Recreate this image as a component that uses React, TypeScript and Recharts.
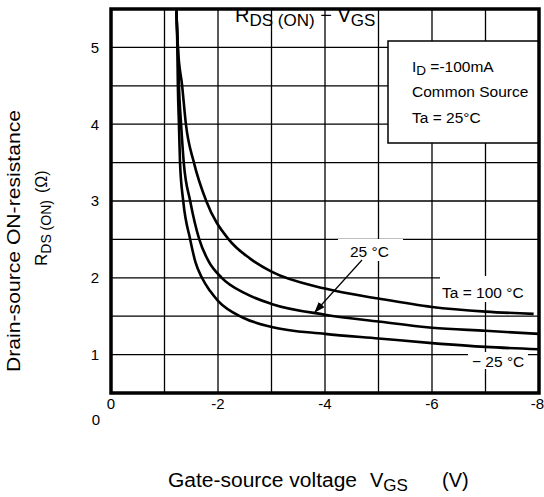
import { LineChart, Line, XAxis, YAxis, CartesianGrid } from "recharts";

const FONT = "'Liberation Sans', Arial, Helvetica, sans-serif";

// axis ticks (grid every 1 V / 0.5 ohm, labels on every other one)
const xTicks = [0, -1, -2, -3, -4, -5, -6, -7, -8];
const yTicks = [0.5, 1, 1.5, 2, 2.5, 3, 3.5, 4, 4.5, 5, 5.5];

// Ta = 100 °C
const vgsHot = [-1.22, -1.25, -1.33, -1.4, -1.55, -1.78, -2.2, -2.6, -3, -4, -5, -6, -7, -7.9];
const rdsHot = [5.5, 5.0, 4.5, 4.0, 3.5, 3.0, 2.5, 2.25, 2.08, 1.86, 1.73, 1.62, 1.56, 1.53];

// Ta = 25 °C
const vgsRoom = [-1.22, -1.25, -1.27, -1.31, -1.36, -1.48, -1.65, -1.82, -2.07, -2.5, -3, -4, -5, -6, -7, -8];
const rdsRoom = [5.5, 5.0, 4.5, 4.0, 3.5, 3.0, 2.5, 2.22, 2.0, 1.8, 1.66, 1.52, 1.43, 1.35, 1.31, 1.27];

// Ta = -25 °C
const vgsCold = [-1.22, -1.24, -1.25, -1.27, -1.29, -1.35, -1.48, -1.58, -1.7, -1.85, -2, -2.47, -3, -4, -5, -6, -7, -8];
const rdsCold = [5.5, 5.0, 4.5, 4.0, 3.5, 3.0, 2.5, 2.2, 2.0, 1.83, 1.7, 1.48, 1.36, 1.27, 1.21, 1.15, 1.1, 1.07];

const toPoints = (xs: number[], ys: number[]) => xs.map((x, i) => ({ x, r: ys[i] }));

const curves = [
  { name: "100", data: toPoints(vgsHot, rdsHot) },
  { name: "25", data: toPoints(vgsRoom, rdsRoom) },
  { name: "-25", data: toPoints(vgsCold, rdsCold) },
];

const tickStyle = { fill: "#000", fontSize: 15, fontFamily: FONT };

// x tick: label every 2 V; the last one is pulled in so it stays on the page
function XTick(props: any) {
  const { x, y, payload } = props;
  const v = payload.value as number;
  if (v % 2 !== 0) return null;
  const last = v === -8;
  return (
    <text
      x={last ? x + 5 : x}
      y={y}
      dy="0.71em"
      textAnchor={last ? "end" : "middle"}
      fill="#000"
      fontSize={15}
      fontFamily={FONT}
    >
      {String(v)}
    </text>
  );
}

export default function App() {
  return (
    <div style={{ position: "absolute", left: 0, top: 0, width: 544, height: 497, background: "#fff" }}>
      <LineChart width={544} height={497} margin={{ top: 9, right: 5, bottom: 74, left: 71 }}>
        <CartesianGrid stroke="#000" strokeWidth={1.3} />
        <XAxis
          type="number"
          dataKey="x"
          domain={[-8, 0]}
          reversed
          allowDataOverflow
          ticks={xTicks}
          interval={0}
          axisLine={false}
          tickLine={false}
          tickSize={0}
          tickMargin={5}
          height={30}
          tick={<XTick />}
        />
        <YAxis
          type="number"
          domain={[0.5, 5.5]}
          allowDataOverflow
          ticks={yTicks}
          interval={0}
          axisLine={false}
          tickLine={false}
          tickSize={0}
          tickMargin={12}
          width={40}
          tick={tickStyle}
          tickFormatter={(v: number) => (Number.isInteger(v) ? String(v) : "")}
        />
        {curves.map((c) => (
          <Line
            key={c.name}
            data={c.data}
            dataKey="r"
            type="monotone"
            stroke="#000"
            strokeWidth={2.6}
            dot={false}
            isAnimationActive={false}
          />
        ))}
      </LineChart>

      <svg
        width={544}
        height={497}
        style={{ position: "absolute", left: 0, top: 0, pointerEvents: "none" }}
        fontFamily={FONT}
      >
        <defs>
          <marker id="ah" markerWidth={11} markerHeight={8} refX={10} refY={4} orient="auto" markerUnits="userSpaceOnUse">
            <path d="M0,0 L11,4 L0,8 z" fill="#000" />
          </marker>
        </defs>

        {/* white backing behind the curve labels */}
        <rect x={338} y={239} width={65} height={22} fill="#fff" />
        <rect x={440} y={276} width={99} height={26} fill="#fff" />
        <rect x={468} y={352} width={60} height={17} fill="#fff" />

        {/* conditions box */}
        <rect x={388} y={41} width={151} height={102} fill="#fff" stroke="#000" strokeWidth={1.5} />

        {/* plot frame */}
        <rect x={111} y={9} width={428} height={384} fill="none" stroke="#000" strokeWidth={3.5} />

        <text x={235} y={22} fontSize={20} fill="#000">
          R<tspan fontSize={17} dy={4}>DS (ON)</tspan>
          <tspan dy={-4}> − V</tspan>
          <tspan fontSize={17} dy={4}>GS</tspan>
        </text>

        <text x={412} y={72} fontSize={15.5} fill="#000">
          I<tspan fontSize={13.5} dy={3}>D</tspan>
          <tspan dy={-3}> =-100mA</tspan>
        </text>
        <text x={412} y={97} fontSize={15.5} fill="#000">Common Source</text>
        <text x={412} y={123} fontSize={15.5} fill="#000">Ta = 25°C</text>

        <text x={350} y={257} fontSize={15.5} fill="#000">25 °C</text>
        <text x={442} y={298} fontSize={15.5} fill="#000">Ta = 100 °C</text>
        <text x={472} y={367} fontSize={15.5} fill="#000">− 25 °C</text>

        <line x1={362} y1={260} x2={315} y2={312} stroke="#000" strokeWidth={1.2} markerEnd="url(#ah)" />

        <text x={96} y={425} fontSize={15} textAnchor="middle" fill="#000">0</text>

        <text x={168} y={487} fontSize={20} fill="#000" textLength={189} lengthAdjust="spacingAndGlyphs">
          Gate-source voltage
        </text>
        <text x={370} y={487} fontSize={20} fill="#000">
          V<tspan fontSize={17} dy={4}>GS</tspan>
        </text>
        <text x={442} y={487} fontSize={20} fill="#000">(V)</text>

        <text
          transform="translate(20,372) rotate(-90)"
          fontSize={19}
          fill="#000"
          textLength={262}
          lengthAdjust="spacingAndGlyphs"
        >
          Drain-source ON-resistance
        </text>
        <text transform="translate(47,266) rotate(-90)" fontSize={17} fill="#000">
          R<tspan fontSize={14} dy={4}>DS (ON)</tspan>
        </text>
        <text transform="translate(47,193) rotate(-90)" fontSize={16} fill="#000">(Ω)</text>
      </svg>
    </div>
  );
}
